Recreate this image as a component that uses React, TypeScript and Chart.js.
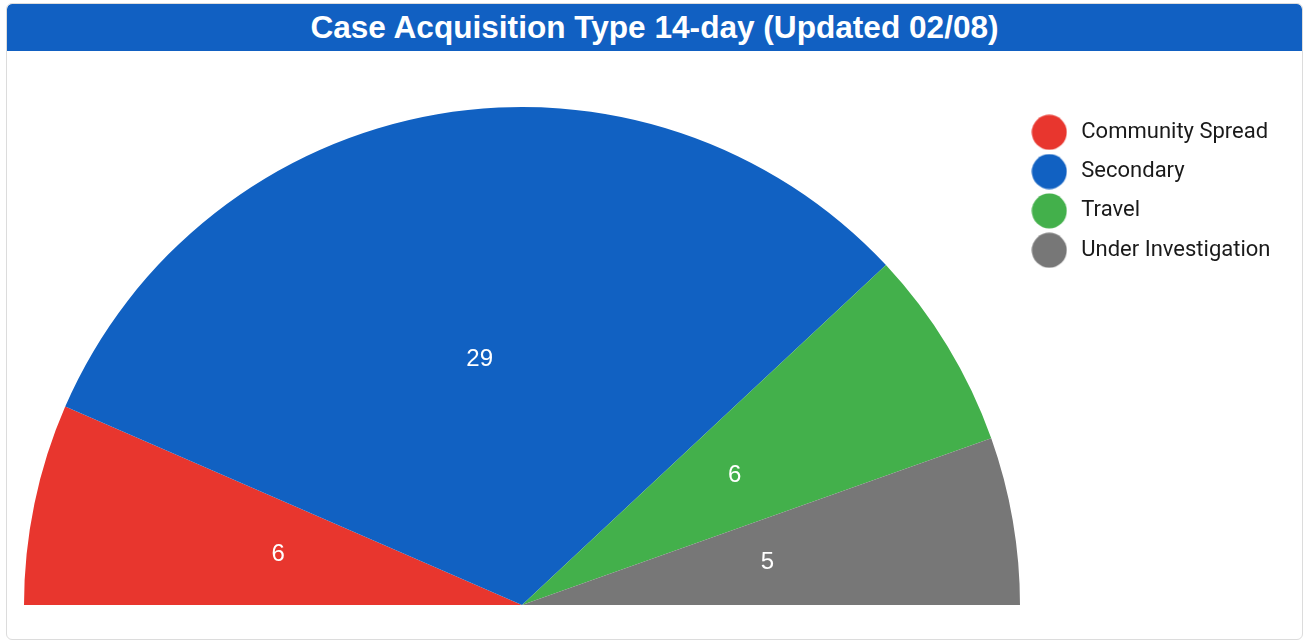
import React, { useEffect, useRef } from "react";
import { Chart, registerables } from "chart.js";

Chart.register(...registerables);

const TITLE = "Case Acquisition Type 14-day (Updated 02/08)";
const categories = ["Community Spread", "Secondary", "Travel", "Under Investigation"];
const caseCounts = [6, 29, 6, 5];
const sliceColors = ["#E8362E", "#1161C2", "#43B04B", "#777777"];

function makeDot(color: string): HTMLCanvasElement {
  const c = document.createElement("canvas");
  c.width = 36;
  c.height = 36;
  const ctx = c.getContext("2d")!;
  ctx.fillStyle = color;
  ctx.beginPath();
  ctx.arc(18, 18, 17.5, 0, Math.PI * 2);
  ctx.fill();
  return c;
}

const legendSizer = {
  id: "legendSizer",
  beforeInit(chart: any) {
    const legend = chart.legend;
    if (!legend) return;
    const orig = legend.fit.bind(legend);
    legend.fit = function () {
      orig();
      this.width = 282;
    };
  },
  afterLayout(chart: any) {
    const legend = chart.legend;
    if (!legend) return;
    legend.left -= 9;
    legend.right -= 9;
  },
};

const valueLabels = {
  id: "valueLabels",
  afterDatasetsDraw(chart: any) {
    const ctx = chart.ctx;
    const meta = chart.getDatasetMeta(0);
    ctx.save();
    ctx.fillStyle = "#ffffff";
    ctx.font = '24px "Liberation Sans", Arial, sans-serif';
    ctx.textAlign = "center";
    ctx.textBaseline = "middle";
    meta.data.forEach((arc: any, i: number) => {
      const p = arc.tooltipPosition(false);
      ctx.fillText(String(caseCounts[i]), p.x, p.y);
    });
    ctx.restore();
  },
};

export default function App() {
  const ref = useRef<HTMLCanvasElement>(null);
  useEffect(() => {
    if (!ref.current) return;
    const dots = sliceColors.map(makeDot);
    const chart = new Chart(ref.current, {
      type: "pie",
      data: {
        labels: categories,
        datasets: [
          {
            data: caseCounts,
            backgroundColor: sliceColors,
            borderWidth: 0,
            hoverOffset: 0,
          },
        ],
      },
      options: {
        responsive: false,
        animation: false,
        events: [],
        rotation: -90,
        circumference: 180,
        layout: { padding: { left: 17, top: 53, bottom: 31, right: 0 } },
        plugins: {
          tooltip: { enabled: false },
          legend: {
            position: "right",
            align: "start",
            labels: {
              usePointStyle: true,
              pointStyleWidth: 42,
              padding: 17.3,
              color: "#1a1a1a",
              font: { family: "Roboto, 'Liberation Sans', Arial, sans-serif", size: 22 },
              generateLabels: () =>
                categories.map((text, i) => ({
                  text,
                  fillStyle: sliceColors[i],
                  strokeStyle: sliceColors[i],
                  lineWidth: 0,
                  pointStyle: dots[i] as any,
                  hidden: false,
                  index: i,
                  fontColor: "#1a1a1a",
                })),
            },
          },
        },
      },
      plugins: [legendSizer, valueLabels],
    } as any);
    return () => chart.destroy();
  }, []);

  return (
    <div
      style={{
        position: "absolute",
        left: 6,
        top: 3,
        width: 1297,
        height: 637,
        boxSizing: "border-box",
        border: "1px solid #dcdcdc",
        borderRadius: 6,
        background: "#ffffff",
        overflow: "hidden",
      }}
    >
      <div
        style={{
          height: 47,
          background: "#1160C2",
          color: "#ffffff",
          font: 'bold 31.6px "Liberation Sans", Arial, sans-serif',
          display: "flex",
          alignItems: "center",
          justifyContent: "center",
          borderRadius: "5px 5px 0 0",
        }}
      >
        {TITLE}
      </div>
      <canvas ref={ref} width={1295} height={588} style={{ display: "block" }} />
    </div>
  );
}
